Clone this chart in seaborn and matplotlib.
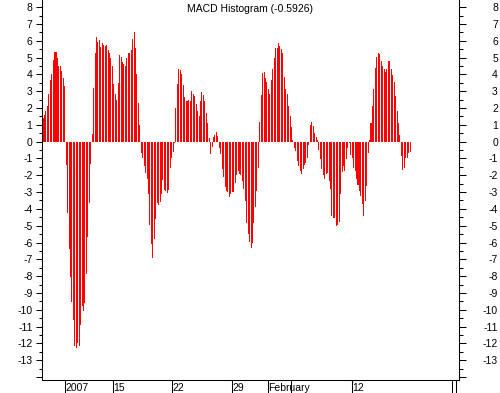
import numpy as np
import pandas as pd
import seaborn as sns
import matplotlib
matplotlib.use('Agg')
import matplotlib.pyplot as plt

# MACD histogram values, one per bar left to right
hist = [
    1.4, 1.6, 1.85, 2.15, 2.85, 3.65, 4.0, 4.85, 5.35, 5.35, 5.0, 4.5, 4.5, 4.2, 3.8, 3.3,
    -1.4, -4.25, -6.4, -8.05, -9.55, -10.6, -12.15, -12.25, -11.95, -12.15, -10.9, -9.8,
    -10.05, -9.6, -7.85, -5.65, -3.65, -1.35,
    0.45, 3.2, 5.25, 6.2, 5.95, 6.05, 5.65, 5.85, 5.75, 5.7, 5.75, 5.45, 5.3, 4.95, 4.5,
    3.45, 2.85, 2.5, 3.5, 5.15, 5.05, 4.75, 4.6, 4.5, 4.95, 5.3, 5.25, 5.45, 6.1, 6.5, 5.6,
    4.0, 2.3, 1.0,
    -0.7, -1.0, -1.45, -1.85, -2.2, -3.1, -4.95, -6.1, -6.9, -5.8, -4.6, -3.65, -3.75, -3.6,
    -3.1, -2.3, -2.9, -2.95, -3.05, -2.9, -1.55, -1.0, -0.6, -0.05,
    2.0, 3.45, 4.3, 4.25, 4.05, 3.35, 2.65, 2.4, 2.45, 2.5, 2.45, 3.0, 2.85, 2.7, 2.25, 1.8,
    1.5, 2.45, 2.95, 2.8, 2.4, 1.7, 1.1, 0.2,
    -0.75, -0.3, 0.25, 0.4, 0.55, 0.35,
    -0.4, -0.75, -1.6, -2.1, -2.7, -2.95, -3.0, -3.3, -3.1, -3.0, -3.0, -2.45, -2.0, -1.75,
    -1.9, -2.0, -2.35, -2.8, -3.55, -4.85, -5.5, -5.95, -6.35, -6.05, -4.85, -3.9, -2.95, -1.55,
    1.15, 2.8, 4.1, 4.15, 3.8, 3.55, 3.15, 2.85, 3.65, 4.35, 5.0, 5.6, 5.6, 5.85, 5.7, 5.5,
    5.3, 3.85, 3.15, 2.85, 2.15, 1.55, 0.9, 0.1,
    -0.4, -0.55, -1.15, -1.45, -1.75, -1.95, -1.65, -1.4, -1.25, -1.0, -0.2,
    1.0, 1.15, 0.95, 0.5, 0.25, 0.1,
    -0.5, -1.05, -1.65, -2.0, -2.25, -1.9, -1.85, -2.35, -2.8, -4.45, -4.55, -4.55, -5.0,
    -4.95, -4.75, -3.1, -1.8, -1.45, -1.75, -1.05,
    -0.4, -0.1, -0.8, -0.95, -1.55, -1.75, -2.25, -2.55, -2.95, -3.25, -3.7, -4.45, -3.55,
    -2.65, -0.65,
    0.1, 1.1, 2.15, 3.15, 4.4, 5.05, 5.25, 5.2, 4.8, 4.5, 4.3, 4.15, 4.35, 4.8, 4.8, 4.3,
    3.95, 3.55, 2.7, 1.85, 1.1, 0.4,
    -0.85, -1.7, -1.55, -1.0, -1.0, -0.7, -0.5926,
]

# date ticks (bar index positions) and their labels
date_ticks = [15.2, 48.4, 89.3, 130.8, 155.7, 171.6, 213.8, 283.2, 285.8]
date_labels = ['2007', '15', '22', '29', 'February', '', '12', '', '']

y_ticks = list(range(-14, 9))
y_labels = [str(v) if v >= -13 else '' for v in y_ticks]

sns.set_style('white')
plt.rcParams['font.family'] = ['Liberation Sans', 'DejaVu Sans']
plt.rcParams['text.color'] = 'black'
plt.rcParams['xtick.color'] = 'black'
plt.rcParams['ytick.color'] = 'black'
plt.rcParams['axes.edgecolor'] = 'black'

fig = plt.figure(figsize=(5, 3.93), dpi=100)
ax = fig.add_axes([0.0834, 0.0331, 0.8346, 0.9669])

df = pd.DataFrame({'i': np.arange(len(hist)), 'v': hist})
sns.barplot(data=df, x='i', y='v', native_scale=True, color='#ff0000',
            saturation=1, width=0.7, linewidth=0, errorbar=None, ax=ax)
for p in ax.patches:
    p.set_antialiased(False)

ax.set_xlim(-0.9, 287.9)
ax.set_ylim(-14.18, 8.43)
ax.set_xlabel('')
ax.set_ylabel('')

for s in ['left', 'bottom', 'right']:
    ax.spines[s].set_linewidth(0.75)
ax.spines['top'].set_visible(False)

ax.set_yticks(y_ticks, y_labels, fontsize=7.5)
ax.set_yticks(np.arange(-14, 8.5, 0.5), minor=True)
ax.tick_params(axis='y', which='major', direction='out', length=4.1, width=0.75,
               left=True, pad=2.5)
ax.tick_params(axis='y', which='minor', direction='out', length=2.4, width=0.75, left=True)

ax.set_xticks(date_ticks, date_labels, ha='left', fontsize=7.5)
ax.set_xticks([], minor=True)
ax.tick_params(axis='x', which='major', direction='out', length=9.4, width=0.75,
               bottom=True, pad=-7.0)

ax2 = ax.twinx()
ax2.set_ylim(ax.get_ylim())
for s in ['left', 'bottom', 'top']:
    ax2.spines[s].set_visible(False)
ax2.spines['right'].set_linewidth(0.75)
ax2.set_yticks(y_ticks, y_labels, fontsize=7.5, ha='right')
ax2.set_yticks(np.arange(-14, 8.5, 0.5), minor=True)
ax2.tick_params(axis='y', which='major', direction='out', length=5, width=0.75,
                right=True, pad=23)
ax2.tick_params(axis='y', which='minor', direction='out', length=2.9, width=0.75, right=True)

ax.text(0.499, 0.989, 'MACD Histogram (-0.5926)', transform=ax.transAxes,
        ha='center', va='top', fontsize=7.5)

fig.savefig('out.png', dpi=100)
